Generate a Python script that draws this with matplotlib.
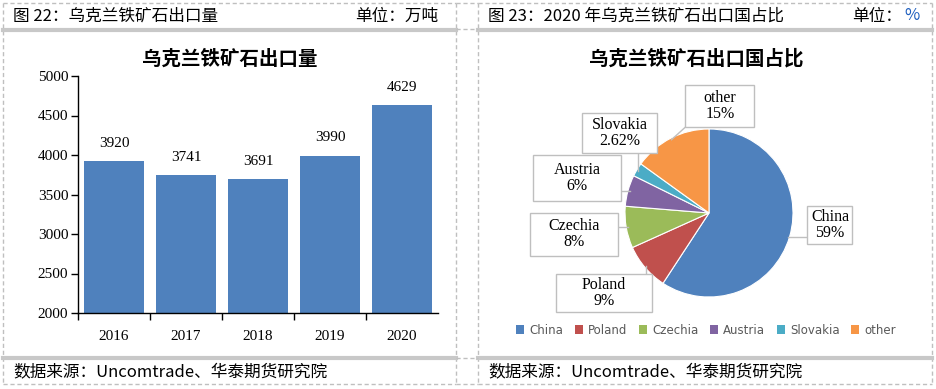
import numpy as np
import matplotlib
matplotlib.use('Agg')
import matplotlib.pyplot as plt
from matplotlib.lines import Line2D
from matplotlib.patches import Patch, Rectangle

W, H = 937, 389

# data
years = ['2016', '2017', '2018', '2019', '2020']
exports = [3920, 3741, 3691, 3990, 4629]

countries = ['China', 'Poland', 'Czechia', 'Austria', 'Slovakia', 'other']
shares = [59, 9, 8, 6, 2.62, 15]
share_labels = ['59%', '9%', '8%', '6%', '2.62%', '15%']
colors = ['#4F81BD', '#C0504D', '#9BBB59', '#8064A2', '#4BACC6', '#F79646']

cjk = ['Noto Sans CJK SC', 'DejaVu Sans']
serif = 'Liberation Serif'


def px(x, y):
    return x / W, 1 - y / H


fig = plt.figure(figsize=(W / 100, H / 100), dpi=100)
fig.patch.set_facecolor('white')

# table frame
dash = dict(color='#BFBFBF', lw=1, ls=(0, (3, 2)))
for x0, x1 in [(3, 456), (478, 932)]:
    fig.add_artist(Line2D([x0 / W, x1 / W], [1 - 3 / H] * 2, **dash))
    fig.add_artist(Line2D([x0 / W, x1 / W], [1 - 384 / H] * 2, **dash))
    fig.add_artist(Line2D([x0 / W, x0 / W], [1 - 3 / H, 1 - 384 / H], **dash))
    fig.add_artist(Line2D([x1 / W, x1 / W], [1 - 3 / H, 1 - 384 / H], **dash))
    for yy in (30, 358):
        fig.add_artist(Line2D([x0 / W, x1 / W], [1 - yy / H] * 2, color='#C8C8C8', lw=3))
for yy in (3, 29, 358, 384):
    fig.add_artist(Line2D([456 / W, 478 / W], [1 - yy / H] * 2, **dash))

# header / footer
hfs = 12
fig.text(*px(13, 16), '图 22：乌克兰铁矿石出口量', family=cjk, fontsize=hfs, va='center', ha='left')
fig.text(*px(438, 16), '单位：万吨', family=cjk, fontsize=hfs, va='center', ha='right')
fig.text(*px(488, 16), '图 23：2020 年乌克兰铁矿石出口国占比', family=cjk, fontsize=hfs, va='center', ha='left')
fig.text(*px(902, 16), '单位：', family=cjk, fontsize=hfs, va='center', ha='right')
fig.text(*px(904, 16), '%', family=cjk, fontsize=hfs, va='center', ha='left', color='#1F5FBF')
fig.text(*px(13, 372), '数据来源：Uncomtrade、华泰期货研究院', family=cjk, fontsize=hfs, va='center', ha='left')
fig.text(*px(488, 372), '数据来源：Uncomtrade、华泰期货研究院', family=cjk, fontsize=hfs, va='center', ha='left')

# bar chart
ax = fig.add_axes([78 / W, 1 - 313 / H, (438 - 78) / W, (313 - 76) / H])
xs = np.arange(len(years))
bars = ax.bar(xs, exports, width=0.84, color='#4F81BD', zorder=2)
for b, v in zip(bars, exports):
    ax.annotate(str(v), (b.get_x() + b.get_width() / 2, v), xytext=(0, 13),
                textcoords='offset points', ha='center', va='center',
                family=serif, fontsize=11)
ax.set_xlim(-0.5, len(years) - 0.5)
ax.set_ylim(2000, 5000)
ax.set_yticks(np.arange(2000, 5001, 500))
ax.set_xticks(xs)
ax.set_xticklabels(years, family=serif, fontsize=11)
ax.set_xticks(np.arange(-0.5, len(years) - 0.5, 1), minor=True)
ax.tick_params(axis='x', which='major', length=0, pad=12)
ax.tick_params(axis='x', which='minor', length=5, direction='out', width=1)
ax.tick_params(axis='y', length=5, direction='out', width=1, pad=2)
for lab in ax.get_yticklabels():
    lab.set_family(serif)
    lab.set_fontsize(11)
for s in ('top', 'right'):
    ax.spines[s].set_visible(False)
ax.spines['left'].set_linewidth(1)
ax.spines['bottom'].set_linewidth(1)
fig.text(*px(230, 59), '乌克兰铁矿石出口量', family=cjk, fontsize=14, weight='bold',
         ha='center', va='center')

# pie chart
cx, cy, r = 709, 213, 84
pax = fig.add_axes([500 / W, 1 - 345 / H, 420 / W, 270 / H])
wedges, _ = pax.pie(shares, colors=colors, startangle=90, counterclock=False,
                    radius=1, wedgeprops=dict(edgecolor='white', linewidth=0.8))
pax.set_xlim((500 - cx) / r, (920 - cx) / r)
pax.set_ylim((cy - 345) / r, (cy - 75) / r)
pax.set_aspect('equal')
pax.axis('off')

# label boxes: centre and size in pixels of the reference layout
box_centers = [(830, 225), (604, 293), (574, 234), (577, 178), (620, 133), (720, 106)]
box_sizes = [(45, 38), (96, 38), (88, 43), (88, 46), (75, 40), (69, 42)]
for w, name, lab, (bx, by), (bw, bh) in zip(wedges, countries, share_labels,
                                             box_centers, box_sizes):
    ang = np.deg2rad((w.theta1 + w.theta2) / 2)
    ex, ey = np.cos(ang) * 0.98, np.sin(ang) * 0.98
    dx, dy = (bx - cx) / r, (cy - by) / r
    hw, hh = bw / 2 / r, bh / 2 / r
    # nearest point of box to wedge edge
    nx = np.clip(ex, dx - hw, dx + hw)
    ny = np.clip(ey, dy - hh, dy + hh)
    pax.plot([nx, ex], [ny, ey], color='#BFBFBF', lw=1, zorder=3)
    pax.add_patch(Rectangle((dx - hw, dy - hh), 2 * hw, 2 * hh, fc='white',
                            ec='#BFBFBF', lw=1, zorder=4))
    pax.text(dx, dy, f'{name}\n{lab}', ha='center', va='center', family=serif,
             fontsize=11.5, linespacing=1.05, zorder=5)

fig.text(*px(696, 59), '乌克兰铁矿石出口国占比', family=cjk, fontsize=14, weight='bold',
         ha='center', va='center')

handles = [Patch(facecolor=c, edgecolor='none') for c in colors]
leg = fig.legend(handles, countries, loc='center', bbox_to_anchor=px(706, 330), ncol=6,
                 frameon=False, handlelength=0.7, handleheight=0.7, handletextpad=0.4,
                 columnspacing=1.0, prop={'family': 'DejaVu Sans', 'size': 8.5})
for t in leg.get_texts():
    t.set_color('#595959')

fig.savefig('out.png', dpi=100, facecolor='white')
